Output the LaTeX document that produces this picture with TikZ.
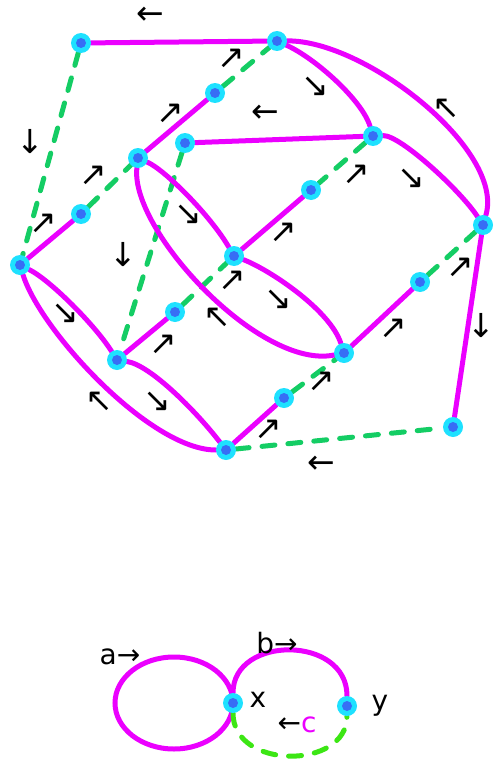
\documentclass[tikz,border=0pt]{standalone}
\usepackage{fontspec}
\setmainfont{DejaVu Sans}
\usepackage{xcolor}
\usetikzlibrary{backgrounds}

\definecolor{treemag}{RGB}{235,0,255}
\definecolor{cotreegreen}{RGB}{20,205,100}
\definecolor{loopgreen}{RGB}{60,230,20}
\definecolor{vtxcyan}{RGB}{30,225,255}
\definecolor{vtxblue}{RGB}{55,110,245}

\begin{document}
\begin{tikzpicture}[x=1pt, y=-1pt,
    vertex/.style={circle, fill=vtxcyan, inner sep=0pt, minimum size=20pt,
        path picture={\fill[vtxblue] (path picture bounding box.center) circle (5pt);}},
    magline/.style={draw=treemag, line width=5pt, line cap=round},
    greenline/.style={draw=cotreegreen, line width=5pt, line cap=round, dash pattern=on 13pt off 13pt},
    loopline/.style={greenline, draw=loopgreen},
    dirarrow/.style={font=\fontsize{33}{33}\selectfont, inner sep=0pt},
    lbl/.style={font=\fontsize{28}{28}\selectfont, inner sep=0pt}]
    \useasboundingbox (0,0) rectangle (496,760);

    % vertices of the graph
    \node[vertex] (A) at (81,43) {};
    \node[vertex] (B) at (277,41) {};
    \node[vertex] (C) at (215,93) {};
    \node[vertex] (D) at (185,143) {};
    \node[vertex] (E) at (373,136) {};
    \node[vertex] (F) at (311,190) {};
    \node[vertex] (G) at (483,225) {};
    \node[vertex] (H) at (20,265) {};
    \node[vertex] (I) at (81,214) {};
    \node[vertex] (Q) at (138,158) {};
    \node[vertex] (J) at (234,256) {};
    \node[vertex] (K) at (175,312) {};
    \node[vertex] (L) at (117,360) {};
    \node[vertex] (M) at (344,353) {};
    \node[vertex] (N) at (420,282) {};
    \node[vertex] (O) at (284,398) {};
    \node[vertex] (P) at (226,450) {};
    \node[vertex] (R) at (453,427) {};

    % small figure
    \node[vertex] (X) at (233,703) {};
    \node[vertex] (Y) at (347,706) {};

    \begin{pgfonlayer}{background}
        \draw[magline] (A) -- (B) (D) -- (E) (H) -- (I) (Q) -- (C) (F) -- (J)
            (L) -- (K) (P) -- (O) (M) -- (N) (G) -- (R);
        \draw[greenline] (A) -- (H) (I) -- (Q) (C) -- (B) (D) -- (L) (E) -- (F)
            (K) -- (J) (O) -- (M) (N) -- (G) (P) -- (R);
        \draw[magline] (B) .. controls (315,58) and (362,100) .. (E);
        \draw[magline] (B) .. controls (365,40) and (505,150) .. (G);
        \draw[magline] (E) .. controls (400,135) and (460,190) .. (G);
        \draw[magline] (Q) .. controls (165,170) and (210,215) .. (J);
        \draw[magline] (Q) .. controls (130,230) and (260,370) .. (M);
        \draw[magline] (J) .. controls (270,270) and (330,310) .. (M);
        \draw[magline] (H) .. controls (50,280) and (95,325) .. (L);
        \draw[magline] (H) .. controls (40,330) and (150,450) .. (P);
        \draw[magline] (L) .. controls (150,365) and (195,410) .. (P);

        \draw[magline] (X.center) arc[start angle=0, end angle=360, x radius=59, y radius=46];
        \draw[magline] (X) .. controls (233,635) and (347,635) .. (Y);
        \draw[loopline] (X) .. controls (233,770) and (347,770) .. (Y);
    \end{pgfonlayer}

    % direction marks
    \foreach \x/\y/\g [count=\i] in {150/16/←, 30/142/↓, 43/224/↗, 93/176/↗, 170/114/↗,
        231/59/↗, 188/215/↘, 315/87/↘, 265/114/←, 446/109/↖, 356/175/↗, 411/179/↘,
        283/233/↗, 123/255/↓, 65/314/↘, 163/345/↗, 217/318/↖, 232/281/↗, 99/402/↖,
        157/402/↘, 278/300/↘, 393/329/↗, 460/268/↗, 481/326/↓, 321/382/↗, 268/430/↗,
        321/465/←}
        \node[dirarrow] (dir\i) at (\x,\y) {\g};

    \node[lbl] (la) at (120,657) {a→};
    \node[lbl] (lb) at (277,643) {b→};
    \node[lbl] (lx) at (258,700) {x};
    \node[lbl] (ly) at (380,706) {y};
    \node[lbl] (lc) at (297,725) {←\textcolor{treemag}{c}};
\end{tikzpicture}
\end{document}
